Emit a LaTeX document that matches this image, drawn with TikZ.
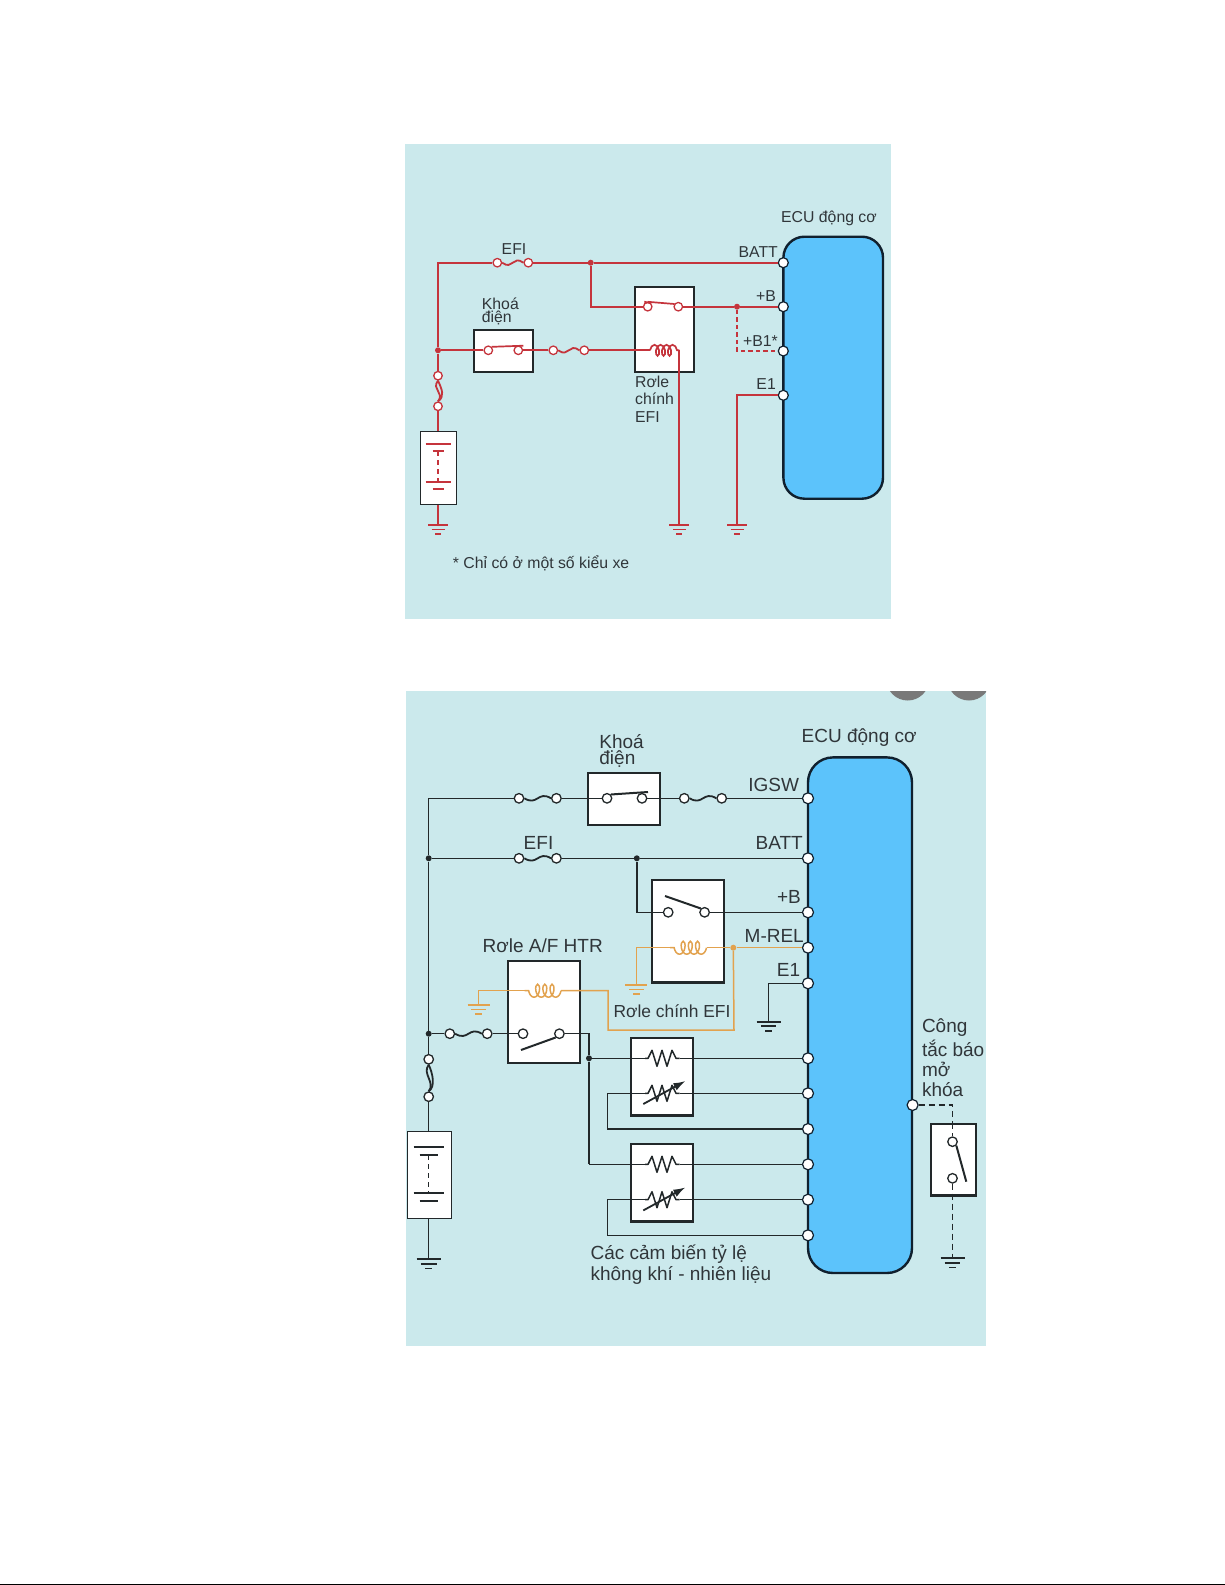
\documentclass[tikz,border=0pt]{standalone}
\usepackage{fontspec}
\setmainfont{Liberation Sans}
\usetikzlibrary{arrows.meta,decorations.pathmorphing,calc}
\definecolor{panelc}{HTML}{CBE9EC}
\definecolor{ecuc}{HTML}{5CC3FB}
\definecolor{ecuedge}{HTML}{10202E}
\definecolor{redw}{HTML}{C5343C}
\definecolor{orangew}{HTML}{E2A24E}
\definecolor{blackw}{HTML}{22282A}
\definecolor{txt}{HTML}{30363A}
\tikzset{
  x=1pt,y=-1pt,
  panel/.style={fill=panelc,draw=none},
  ecubox/.style={draw=ecuedge,line width=2.4pt,fill=ecuc,rounded corners=21pt},
  devbox/.style={draw=blackw,line width=2.2pt,fill=white},
  batbox/.style={draw=blackw,line width=1pt,fill=white},
  wire/.style={line width=1.5pt},
  term/.style={circle,draw,fill=white,inner sep=0pt,minimum size=8.5pt,line width=1.3pt},
  pin/.style={circle,draw=ecuedge,fill=white,inner sep=0pt,minimum size=10pt,line width=1.2pt},
  jdot/.style={circle,fill,inner sep=0pt,minimum size=6pt},
  lab/.style={text=txt,inner sep=0pt,align=left},
  labA/.style={lab,font=\fontsize{15.8}{16}\selectfont},
  labB/.style={lab,font=\fontsize{19}{21}\selectfont},
  labC/.style={lab,font=\fontsize{17.4}{21}\selectfont},
  coilA/.style={decorate,decoration={coil,aspect=0.55,amplitude=5.5pt,segment length=6pt}},
  coilB/.style={decorate,decoration={coil,aspect=0.55,amplitude=6.5pt,segment length=7.2pt}},
}
\newcommand{\fuseH}[5]{% name x y colour width
  \node[term,draw=#4] (#1a) at (#2,#3) {};
  \node[term,draw=#4] (#1b) at (#2+#5,#3) {};
  \draw[#4,wire,line width=1.8pt] (#1a.east) .. controls +(#5*0.35,8) and +(-#5*0.35,-8) .. (#1b.west);
}
\newcommand{\fuseV}[5]{% name x y1 y2 colour
  \node[term,draw=#5] (#1a) at (#2,#3) {};
  \node[term,draw=#5] (#1b) at (#2,#4) {};
  \draw[#5,line width=1.8pt] (#1a.south) .. controls +(-7,9) and +(7,-9) .. (#1b.north);
  \draw[#5,line width=1.8pt] (#1a.south) .. controls +(4,9) and +(7,-5) .. (#1b.north);
}
\newcommand{\gnd}[5]{% name x y half colour
  \coordinate (#1) at (#2,#3);
  \draw[#5,line width=1.7pt] ($(#1)+(-#4,0)$) -- ($(#1)+(#4,0)$);
  \draw[#5,line width=1.7pt] ($(#1)+(-0.65*#4,4.6)$) -- ($(#1)+(0.65*#4,4.6)$);
  \draw[#5,line width=1.7pt] ($(#1)+(-0.3*#4,9.2)$) -- ($(#1)+(0.3*#4,9.2)$);
}
\newcommand{\bat}[8]{% x y1 y2 y3 y4 long short colour
  \draw[#8,line width=1.7pt] (#1-#6,#2) -- (#1+#6,#2);
  \draw[#8,line width=2.1pt] (#1-#7,#3) -- (#1+#7,#3);
  \draw[#8,line width=1.5pt,dash pattern=on 5pt off 4pt] (#1,#3) -- (#1,#4);
  \draw[#8,line width=1.7pt] (#1-#6,#4) -- (#1+#6,#4);
  \draw[#8,line width=2.1pt] (#1-#7,#5) -- (#1+#7,#5);
}
\newcommand{\resist}[2]{% x y zigzag, starting at x
  \draw[blackw,wire,line join=round] (#1,#2) -- ++(3,0) -- ++(4,-8) -- ++(5,16) -- ++(5,-16) -- ++(5,16) -- ++(5,-16) -- ++(4,8) -- ++(3.7,0);
}
\begin{document}
\begin{tikzpicture}[x=1pt,y=-1pt]
\useasboundingbox (0,0) rectangle (1225,1585);
\fill[white] (0,0) rectangle (1225,1585);
\fill[black] (0,1583.6) rectangle (1225,1585);
% ================= upper panel =================
\fill[panel] (405,144) rectangle (891,619);
\node[ecubox,anchor=north west,minimum width=99.6pt,minimum height=262pt] (ecuA) at (782.2,235.5) {};
\node[devbox,anchor=north west,minimum width=59pt,minimum height=85pt] (relA) at (634.2,286) {};
\node[devbox,anchor=north west,minimum width=59.4pt,minimum height=42.4pt] (keyA) at (472.5,328.5) {};
\node[batbox,anchor=north west,minimum width=36pt,minimum height=73pt] (batA) at (420,431) {};
\begin{scope}[redw]
\tikzset{wire/.append style={line width=1.7pt}}
\node[pin] (pBatt) at (783.3,262.7) {};
\node[pin] (pB) at (783.3,306.7) {};
\node[pin] (pBone) at (783.3,351) {};
\node[pin] (pEone) at (783.3,395.3) {};
\coordinate (cTL) at (438,262.7);
\node[jdot] (jL) at (438,350.3) {};
\node[jdot] (jT) at (590.7,262.7) {};
\node[jdot] (jB) at (737,306.7) {};
\fuseH{fa}{497.3}{262.7}{redw}{31}
\fuseH{fb}{553.3}{350.3}{redw}{31}
\fuseV{fc}{438}{375.7}{406.3}{redw}
\node[term] (swa) at (488.3,350.3) {};
\node[term] (swb) at (518.3,350.3) {};
\node[term] (rsa) at (647.7,306.7) {};
\node[term] (rsb) at (678.3,306.7) {};
\coordinate (coA) at (650,350.3);
\coordinate (coB) at (679.3,350.3);
\gnd{ga}{438}{525}{10}{redw}
\gnd{gb}{679.3}{525}{10}{redw}
\gnd{gc}{737}{525}{10}{redw}
\draw[wire] (fcb) -- (batA.north -| fcb);
\draw[wire] (batA.south -| fcb) -- (ga);
\draw[wire] (fab) -- (jT) -- (pBatt);
\draw[wire] (fca) -- (jL) -- (cTL) -- (faa);
\draw[wire] (jL) -- (swa);
\draw[wire] (swb) -- (fba);
\draw[wire] (fbb) -- (coA);
\draw[wire,coilA] (coA) -- (coB);
\draw[wire] (coB) -- (gb);
\draw[wire] (jT) |- (rsa);
\draw[wire] (rsb) -- (jB) -- (pB);
\draw[line width=1.3pt,dash pattern=on 4.5pt off 3pt] (jB) |- (pBone);
\draw[wire] (pEone) -| (gc);
\draw[wire] (644.3,301.7) -- (rsa.north east);
\draw[wire] (rsa.north) -- (674.5,304);
\draw[wire] (swa.north east) -- (523.3,345.7);
\end{scope}
\bat{438}{444.3}{451}{482.3}{489}{12.5}{5.5}{redw}
\node[labA,anchor=west] (tEcuA) at (781,218) {ECU động cơ};
\node[labA,anchor=east] (tBatt) at (778,251.7) {BATT};
\node[labA,anchor=east] (tB) at (776,295.7) {+B};
\node[labA,anchor=east] (tBone) at (778,341) {+B1*};
\node[labA,anchor=east] (tEone) at (776,384) {E1};
\node[labA,anchor=center] (tEfi) at (514,249) {EFI};
\node[labA,anchor=west] (tKhoaA) at (481.7,304) {Khoá};
\node[labA,anchor=west] (tDienA) at (481.7,318) {điện};
\node[labA,anchor=west] (tRa) at (635,381.7) {Rơle};
\node[labA,anchor=west] (tRb) at (635,399) {chính};
\node[labA,anchor=west] (tRc) at (635,416.7) {EFI};
\node[labA,anchor=west] (tNote) at (452.7,563) {* Chỉ có ở một số kiểu xe};
% ================= lower panel =================
\fill[panel] (406,691) rectangle (986,1345.5);
\begin{scope}
\clip (406,691) rectangle (986,1345.5);
\fill[gray!95!black] (907.7,679) circle (21.5);
\fill[gray!95!black] (969,679) circle (21.5);
\end{scope}
\node[ecubox,anchor=north west,minimum width=104pt,minimum height=515.6pt,rounded corners=25pt] (ecuB) at (806.8,756.2) {};
\node[devbox,anchor=north west,minimum width=72.2pt,minimum height=51.7pt] (keyB) at (586.9,771.9) {};
\node[devbox,anchor=north west,minimum width=72.2pt,minimum height=102.8pt] (relB) at (650.9,878.5) {};
\node[devbox,anchor=north west,minimum width=72.4pt,minimum height=101.7pt] (relC) at (506.5,960.2) {};
\node[devbox,anchor=north west,minimum width=62pt,minimum height=77.8pt] (senA) at (629.8,1036.5) {};
\node[devbox,anchor=north west,minimum width=62pt,minimum height=77.4pt] (senB) at (629.8,1142.9) {};
\node[devbox,anchor=north west,minimum width=44.5pt,minimum height=71.1pt] (dore) at (930.2,1123.2) {};
\node[batbox,anchor=north west,minimum width=43.6pt,minimum height=87.3pt] (batB) at (407,1131) {};
\begin{scope}[blackw]
\node[pin,minimum size=11pt] (qIg) at (808,798.3) {};
\node[pin,minimum size=11pt] (qBatt) at (808,858.3) {};
\node[pin,minimum size=11pt] (qB) at (808,912.3) {};
\node[pin,minimum size=11pt] (qE) at (808,983.3) {};
\node[pin,minimum size=11pt] (qa) at (808,1058.3) {};
\node[pin,minimum size=11pt] (qb) at (808,1093.3) {};
\node[pin,minimum size=11pt] (qc) at (808,1129) {};
\node[pin,minimum size=11pt] (qd) at (808,1164.3) {};
\node[pin,minimum size=11pt] (qe) at (808,1199.7) {};
\node[pin,minimum size=11pt] (qf) at (808,1235.3) {};
\node[pin,minimum size=11pt] (qR) at (912.6,1105) {};
\node[pin,minimum size=11pt] (qMrel) at (808,947.7) {};
\coordinate (dTL) at (428.7,798.3);
\node[jdot] (kA) at (428.7,858.3) {};
\node[jdot] (kB) at (428.7,1033.7) {};
\node[jdot] (kC) at (636.8,858.3) {};
\node[jdot] (kD) at (589,1058.3) {};
\tikzset{term/.append style={minimum size=9.5pt}}
\fuseH{ga}{519}{798.3}{blackw}{37.4}
\fuseH{gb}{684.3}{798.3}{blackw}{37.4}
\fuseH{gd}{519}{858.3}{blackw}{37.4}
\fuseH{ge}{449.8}{1033.7}{blackw}{37.4}
\fuseV{gf}{428.7}{1059.3}{1096.7}{blackw}
\node[term] (tka) at (607,798.3) {};
\node[term] (tkb) at (642,798.3) {};
\node[term] (tra) at (668.2,912.3) {};
\node[term] (trb) at (704.6,912.3) {};
\node[term] (tsa) at (523,1033.7) {};
\node[term] (tsb) at (559.4,1033.7) {};
\node[term] (tda) at (952.5,1141.7) {};
\node[term] (tdb) at (952.5,1178.3) {};
\coordinate (cSw) at (589,1033.7);
\coordinate (cSd) at (589,1164.3);
\gnd{hL}{428.7}{1259.3}{12}{blackw}
\gnd{hE}{768.6}{1021.7}{12}{blackw}
\gnd{hD}{952.5}{1258.3}{12}{blackw}
\draw[wire] (kA) -- (dTL) -- (gaa);
\draw[wire] (gab) -- (tka);
\draw[wire] (tkb) -- (gba);
\draw[wire] (gbb) -- (qIg);
\draw[wire] (kB) -- (kA) -- (gda);
\draw[wire] (gdb) -- (kC) -- (qBatt);
\draw[wire] (kC) |- (tra);
\draw[wire] (trb) -- (qB);
\draw[wire] (qE) -| (hE);
\draw[wire] (kB) -- (gea);
\draw[wire] (geb) -- (tsa);
\draw[wire] (gfa) -- (kB);
\draw[wire] (gfb) -- (batB.north -| gfb);
\draw[wire] (batB.south -| gfb) -- (hL);
\draw[wire] (tsb) -- (cSw) -- (kD) -- (cSd);
% sensors
\coordinate (sa) at (645,1058.3);
\coordinate (sb) at (679.7,1058.3);
\coordinate (sc) at (645,1093.3);
\coordinate (sd) at (679.7,1093.3);
\coordinate (se) at (645,1164.3);
\coordinate (sf) at (679.7,1164.3);
\coordinate (sg) at (645,1199.7);
\coordinate (sh) at (679.7,1199.7);
\coordinate (lpA) at (607.3,1093.3);
\coordinate (lpB) at (607.3,1199.7);
\resist{645}{1058.3}
\resist{645}{1093.3}
\resist{645}{1164.3}
\resist{645}{1199.7}
\draw[wire] (kD) -- (sa);
\draw[wire] (sb) -- (qa);
\draw[wire] (cSd) -- (se);
\draw[wire] (sf) -- (qd);
\draw[wire] (sc) -- (lpA) |- (qc);
\draw[wire] (sd) -- (qb);
\draw[wire] (sg) -- (lpB) |- (qf);
\draw[wire] (sh) -- (qe);
\draw[line width=1.8pt,-{Latex[length=12pt,width=8pt]}] (643.3,1104) -- (685.4,1081);
\draw[line width=1.8pt,-{Latex[length=12pt,width=8pt]}] (643.3,1210.4) -- (685.4,1187.4);
% switch arms
\draw[line width=2pt] (tka.north east) -- (648,792);
\draw[line width=2pt] (665,896) -- (trb.north west);
\draw[line width=2pt] (521,1050) -- (tsb.south west);
\draw[line width=2pt] (tda.south east) -- (966.3,1181.7);
% dashed branch
\draw[line width=1.4pt,dash pattern=on 6pt off 4pt] (qR) -| (dore.north -| tda);
\draw[line width=1.4pt,dash pattern=on 6pt off 4pt] (dore.north -| tda) -- (tda);
\draw[line width=1.4pt,dash pattern=on 6pt off 4pt] (tdb) -- (hD);
\end{scope}
% orange circuit
\begin{scope}[orangew]
\node[jdot] (kO) at (733.3,947.7) {};
\coordinate (oA) at (670,947.7);
\coordinate (oB) at (706.5,947.7);
\coordinate (oC) at (636.4,947.7);
\coordinate (oD) at (524.5,990.7);
\coordinate (oE) at (561,990.7);
\coordinate (oF) at (478.5,990.7);
\coordinate (oG) at (608,990.7);
\coordinate (oH) at (608,1030);
\coordinate (oI) at (734,1030);
\gnd{hO}{636.4}{985}{11}{orangew}
\gnd{hP}{478.5}{1005}{11}{orangew}
\draw[wire] (qMrel) -- (kO) -- (oB);
\draw[wire,coilB] (oB) -- (oA);
\draw[wire] (oA) -- (oC) -- (hO);
\draw[wire] (kO) -- (oI) -- (oH) -- (oG) -- (oE);
\draw[wire,coilB] (oE) -- (oD);
\draw[wire] (oD) -- (oF) -- (hP);
\end{scope}
\bat{428.7}{1146.7}{1155}{1192.7}{1201}{15}{9}{blackw}
\node[labB,anchor=west] (uEcu) at (801.5,737.3) {ECU động cơ};
\node[labB,anchor=west] (uKa) at (599.2,741.7) {Khoá};
\node[labB,anchor=west] (uKb) at (599.2,759.3) {điện};
\node[labB,anchor=east] (uIg) at (799.2,785) {IGSW};
\node[labB,anchor=east] (uBatt) at (803,843.3) {BATT};
\node[labB,anchor=center] (uEfi) at (538.5,843.3) {EFI};
\node[labB,anchor=east] (uB) at (801,897.3) {+B};
\node[labB,anchor=east] (uM) at (804,935.7) {M-REL};
\node[labB,anchor=east] (uE) at (800.4,970) {E1};
\node[labB,anchor=west] (uAf) at (482.4,945.7) {Rơle A/F HTR};
\node[labC,anchor=west] (uChinh) at (613.4,1011) {Rơle chính EFI};
\node[labB,anchor=west] (uSa) at (590.4,1254.3) {Các cảm biến tỷ lệ};
\node[labB,anchor=west] (uSb) at (590.4,1275.7) {không khí - nhiên liệu};
\node[labB,anchor=west] (uCa) at (921.8,1027.3) {Công};
\node[labB,anchor=west] (uCb) at (921.8,1048.3) {tắc báo};
\node[labB,anchor=west] (uCc) at (921.8,1069.3) {mở};
\node[labB,anchor=west] (uCd) at (921.8,1090) {khóa};
\end{tikzpicture}
\end{document}
